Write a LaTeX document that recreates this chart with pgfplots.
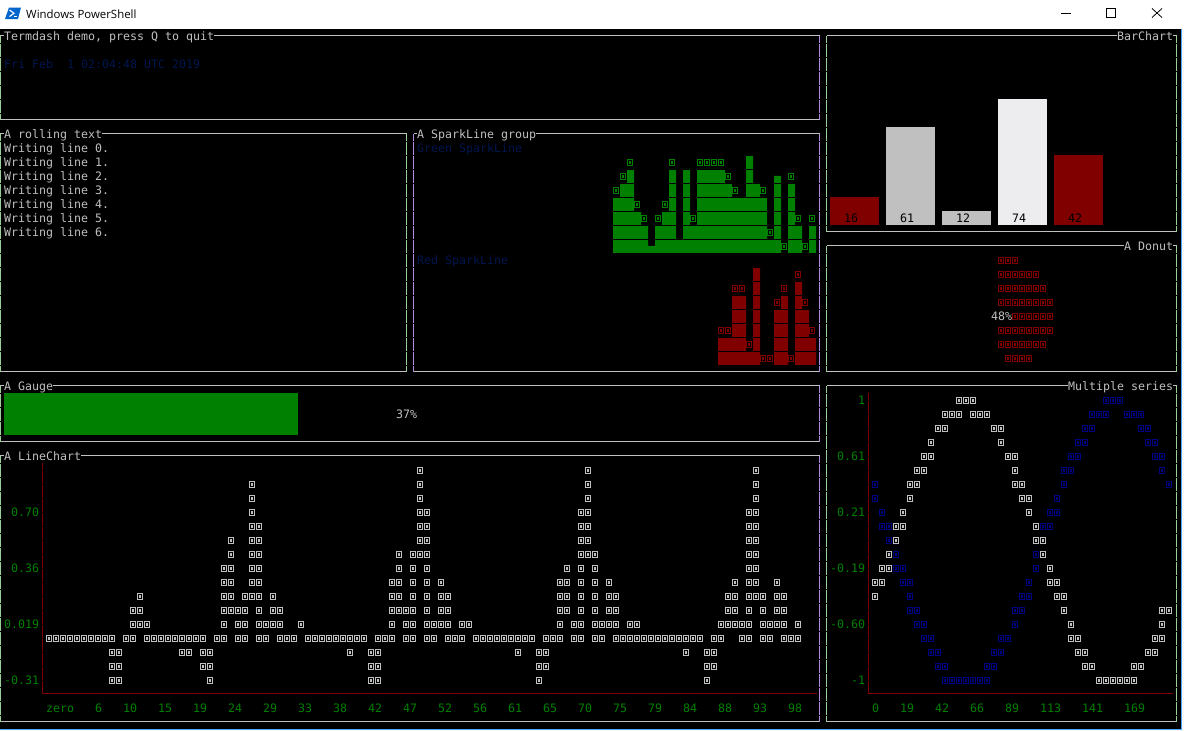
\documentclass[border=0pt]{standalone}
\usepackage{fontspec}
\setmainfont{Open Sans}
\setmonofont{DejaVu Sans Mono}
\usepackage{pgfplots}
\pgfplotsset{compat=1.18}

\definecolor{fg}{HTML}{C0C0C0}
\definecolor{tgreen}{HTML}{008000}
\definecolor{tred}{HTML}{800000}
\definecolor{tblue}{HTML}{000080}
\definecolor{dimblue}{HTML}{00164F}
\definecolor{lefte}{HTML}{98D098}
\definecolor{righte}{HTML}{B488E0}

% the little box the terminal draws for a glyph its font lacks
\pgfdeclareplotmark{tofu}{%
  \pgfsetlinewidth{1pt}%
  \pgfpathrectangle{\pgfqpoint{-3pt}{-3.5pt}}{\pgfqpoint{5pt}{6pt}}%
  \pgfusepathqstroke
  \pgfsetlinewidth{0.7pt}%
  \pgfpathrectangle{\pgfqpoint{-1.2pt}{-1.7pt}}{\pgfqpoint{1.4pt}{2.4pt}}%
  \pgfusepathqstroke
}

\pgfplotsset{
  base/.style={scale only axis, hide axis, anchor=south west},
  tofus/.style={only marks, mark=tofu, color=#1, mark options={solid}},
  hline/.style={fg, line width=1pt},
  vline/.style={#1, line width=1pt, dash pattern=on 12.5pt off 1.5pt, dash phase=5.75pt},
}

% all of these are used in the axis counted in terminal cells
\newcommand{\txt}[4]{\node[anchor=base west, inner sep=0pt, text=#1] at (axis cs:#2-0.5,#3+0.29) {\fontsize{11.62}{14}\selectfont\ttfamily #4};}
\newcommand{\ttl}[3]{\node[anchor=base west, inner sep=0pt, text=fg, fill=black] at (axis cs:#1-0.5,#2+0.29) {\fontsize{11.62}{14}\selectfont\ttfamily #3};}
\newcommand{\panel}[6]{%
  \addplot[hline] coordinates {(#1,#2-0.03)(#3,#2-0.03)};
  \addplot[hline] coordinates {(#1,#4-0.03)(#3,#4-0.03)};
  \addplot[vline=#5] coordinates {(#1,#2)(#1,#4)};
  \addplot[vline=#6] coordinates {(#3,#2)(#3,#4)};
}

\begin{document}
\begin{tikzpicture}

% window chrome, in pixels
\begin{axis}[base, at={(0pt,0pt)}, width=1184pt, height=731pt,
    xmin=0, xmax=1184, ymin=0, ymax=731, y dir=reverse]
\addplot[fill=black, draw=none] coordinates {(0,0)(1184,0)(1184,731)(0,731)} --cycle;
\addplot[fill=white, draw=none] coordinates {(0,0)(1184,0)(1184,29)(0,29)} --cycle;
\addplot[fill=white!94!gray, draw=none] coordinates {(1181,29)(1184,29)(1184,731)(1181,731)} --cycle;
\addplot[fill=white!94!gray, draw=none] coordinates {(0,730)(1184,730)(1184,731)(0,731)} --cycle;
\addplot[color=blue!50!cyan!70!white, line width=1pt] coordinates {(1181,29)(1181,729.5)(0,729.5)};
% powershell icon
\addplot[fill=blue!50!cyan!80!black, draw=none] coordinates {(5,19)(9,7.5)(21,7.5)(18,19)} --cycle;
\addplot[white, line width=1.1pt] coordinates {(9.5,10)(14,13.3)(9.5,16.5)};
\addplot[white, line width=1pt] coordinates {(13.5,16.8)(17,16.8)};
% window buttons
\addplot[black, line width=1pt] coordinates {(1061,13.5)(1071,13.5)};
\addplot[black, line width=1pt] coordinates {(1106.7,8.5)(1115.7,8.5)(1115.7,17.5)(1106.7,17.5)} --cycle;
\addplot[black, line width=.8pt] coordinates {(1152,8.5)(1162,17.5)};
\addplot[black, line width=.8pt] coordinates {(1162,8.5)(1152,17.5)};
\node[anchor=base west, inner sep=0pt, text=black] at (axis cs:26,18) {\fontsize{11.4}{14}\selectfont Windows PowerShell};
% gauge
\addplot[fill=tgreen, draw=none] coordinates {(4,393)(298,393)(298,435)(4,435)} --cycle;
\end{axis}

% bar chart, one unit of height is one terminal row
\begin{axis}[base, at={(826.5pt,506pt)}, width=280pt, height=126pt,
    xmin=-0.5, xmax=4.5, ymin=0, ymax=9]
\addplot[ybar, bar width=49pt, bar shift=0pt, fill=tred, draw=none] coordinates {(0,2)};
\addplot[ybar, bar width=49pt, bar shift=0pt, fill=fg, draw=none] coordinates {(1,7)};
\addplot[ybar, bar width=49pt, bar shift=0pt, fill=fg, draw=none] coordinates {(2,1)};
\addplot[ybar, bar width=49pt, bar shift=0pt, fill={rgb,255:red,237;green,237;blue,239}, draw=none] coordinates {(3,9)};
\addplot[ybar, bar width=49pt, bar shift=0pt, fill=tred, draw=none] coordinates {(4,5)};
\end{axis}

% green sparkline
\begin{axis}[base, at={(613pt,478pt)}, width=203pt, height=112pt,
    xmin=0, xmax=29, ymin=0, ymax=8]
\addplot[const plot, fill=tgreen, draw=none] coordinates {
  (0,4)(1,5)(2,6)(3,3)(4,2)(5,0.5)(6,2)(7,3)(8,6)(9,1)(10,6)(11,2)(12,6)(13,6)(14,6)
  (15,6)(16,5)(17,4)(18,4)(19,7)(20,5)(21,4)(22,1)(23,5.5)(24,0)(25,5)(26,2)(27,0)(28,2)(29,2)
} \closedcycle;
\pgfplotsinvokeforeach{0.964,1.964,2.964,3.964,4.964,5.964,6.964}{
  \addplot[black, line width=1pt] coordinates {(0,#1)(29,#1)};
}
\addplot[tofus=tgreen] coordinates {
  (0.5,4.5)(1.5,5.5)(2.5,6.5)(3.5,3.5)(4.5,2.5)(6.5,2.5)(7.5,3.5)(8.5,6.5)(11.5,2.5)
  (12.5,6.5)(13.5,6.5)(14.5,6.5)(15.5,6.5)(16.5,5.5)(17.5,4.5)(21.5,4.5)(22.5,1.5)
  (24.5,0.5)(25.5,5.5)(26.5,2.5)(27.5,0.5)(28.5,2.5)
};
\end{axis}

% red sparkline
\begin{axis}[base, at={(718pt,366pt)}, width=98pt, height=112pt,
    xmin=0, xmax=14, ymin=0, ymax=8]
\addplot[const plot, fill=tred, draw=none] coordinates {
  (0,2)(1,2)(2,5)(3,5)(4,1)(5,7)(6,0)(7,0)(8,4)(9,5)(10,0)(11,6)(12,4)(13,2)(14,2)
} \closedcycle;
\pgfplotsinvokeforeach{0.964,1.964,2.964,3.964,4.964,5.964,6.964}{
  \addplot[black, line width=1pt] coordinates {(0,#1)(14,#1)};
}
\addplot[tofus=tred] coordinates {
  (0.5,2.5)(1.5,2.5)(2.5,5.5)(3.5,5.5)(4.5,1.5)(6.5,0.5)(7.5,0.5)(8.5,4.5)(9.5,5.5)
  (10.5,0.5)(11.5,6.5)(12.5,4.5)(13.5,2.5)
};
\end{axis}

% the terminal itself: x is the column, y the row of a character cell
\begin{axis}[base, at={(0pt,0pt)}, width=1184pt, height=731pt,
    xmin=-0.0714286, xmax=169.0714286, ymin=-2.5714286, ymax=49.6428571, y dir=reverse]

\panel{0}{0}{117}{6}{lefte}{righte}
\panel{0}{7}{58}{24}{lefte}{lefte}
\panel{59}{7}{117}{24}{righte}{righte}
\panel{0}{25}{117}{29}{lefte}{righte}
\panel{0}{30}{117}{49}{lefte}{righte}
\panel{118}{0}{168}{14}{lefte}{lefte}
\panel{118}{15}{168}{24}{lefte}{lefte}
\panel{118}{25}{168}{49}{lefte}{lefte}

\ttl{1}{0}{Termdash~demo,~press~Q~to~quit}
\ttl{1}{7}{A~rolling~text}
\ttl{60}{7}{A~SparkLine~group}
\ttl{1}{25}{A~Gauge}
\ttl{1}{30}{A~LineChart}
\ttl{160}{0}{BarChart}
\ttl{161}{15}{A~Donut}
\ttl{153}{25}{Multiple~series}

\txt{dimblue}{1}{2}{Fri~Feb~~1~02:04:48~UTC~2019}
\txt{fg}{1}{8}{Writing~line~0.}
\txt{fg}{1}{9}{Writing~line~1.}
\txt{fg}{1}{10}{Writing~line~2.}
\txt{fg}{1}{11}{Writing~line~3.}
\txt{fg}{1}{12}{Writing~line~4.}
\txt{fg}{1}{13}{Writing~line~5.}
\txt{fg}{1}{14}{Writing~line~6.}
\txt{dimblue}{60}{8}{Green~SparkLine}
\txt{dimblue}{60}{16}{Red~SparkLine}
\txt{fg}{57}{27}{37\%}
\txt{black}{121}{13}{16}
\txt{black}{129}{13}{61}
\txt{black}{137}{13}{12}
\txt{black}{145}{13}{74}
\txt{black}{153}{13}{42}
\txt{fg}{142}{20}{48\%}

% donut
\addplot[tofus=tred] coordinates {
  (143,16)(144,16)(145,16)
  (143,17)(144,17)(145,17)(146,17)(147,17)(148,17)
  (143,18)(144,18)(145,18)(146,18)(147,18)(148,18)(149,18)
  (143,19)(144,19)(145,19)(146,19)(147,19)(148,19)(149,19)(150,19)
  (145,20)(146,20)(147,20)(148,20)(149,20)(150,20)
  (143,21)(144,21)(145,21)(146,21)(147,21)(148,21)(149,21)(150,21)
  (143,22)(144,22)(145,22)(146,22)(147,22)(148,22)(149,22)
  (144,23)(145,23)(146,23)(147,23)
};

% line chart axes and labels
\addplot[vline=tred] coordinates {(6,30.5)(6,47)};
\addplot[tred, line width=1pt] coordinates {(6,46.96)(116.6,46.96)};
\txt{tgreen}{2}{34}{0.70}
\txt{tgreen}{2}{38}{0.36}
\txt{tgreen}{1}{42}{0.019}
\txt{tgreen}{1}{46}{-0.31}
\txt{tgreen}{7}{48}{zero}
\txt{tgreen}{14}{48}{6}
\txt{tgreen}{18}{48}{10}
\txt{tgreen}{23}{48}{15}
\txt{tgreen}{28}{48}{19}
\txt{tgreen}{33}{48}{24}
\txt{tgreen}{38}{48}{29}
\txt{tgreen}{43}{48}{33}
\txt{tgreen}{48}{48}{38}
\txt{tgreen}{53}{48}{42}
\txt{tgreen}{58}{48}{47}
\txt{tgreen}{63}{48}{52}
\txt{tgreen}{68}{48}{56}
\txt{tgreen}{73}{48}{61}
\txt{tgreen}{78}{48}{65}
\txt{tgreen}{83}{48}{70}
\txt{tgreen}{88}{48}{75}
\txt{tgreen}{93}{48}{79}
\txt{tgreen}{98}{48}{84}
\txt{tgreen}{103}{48}{88}
\txt{tgreen}{108}{48}{93}
\txt{tgreen}{113}{48}{98}

% line chart series
\addplot[tofus=fg] coordinates {
  (60,31)(84,31)(108,31)
  (36,32)(60,32)(84,32)(108,32)
  (36,33)(60,33)(84,33)(108,33)
  (36,34)(60,34)(61,34)(83,34)(84,34)(107,34)(108,34)
  (36,35)(37,35)(60,35)(61,35)(83,35)(84,35)(107,35)(108,35)
  (33,36)(36,36)(37,36)(60,36)(61,36)(83,36)(84,36)(107,36)(108,36)
  (33,37)(36,37)(37,37)(57,37)(59,37)(60,37)(61,37)(83,37)(84,37)(85,37)(107,37)(108,37)
  (32,38)(33,38)(36,38)(37,38)(57,38)(59,38)(61,38)(81,38)(83,38)(85,38)(107,38)(108,38)
  (32,39)(33,39)(36,39)(37,39)(56,39)(57,39)(59,39)(61,39)(63,39)(80,39)(81,39)(83,39)(85,39)(87,39)(105,39)(107,39)(108,39)(111,39)
  (20,40)(32,40)(33,40)(35,40)(36,40)(37,40)(39,40)(56,40)(57,40)(59,40)(61,40)(63,40)(64,40)(80,40)(81,40)(83,40)(85,40)(87,40)(88,40)(104,40)(105,40)(107,40)(108,40)(109,40)(111,40)(112,40)
  (19,41)(20,41)(32,41)(33,41)(34,41)(35,41)(37,41)(39,41)(40,41)(56,41)(57,41)(58,41)(59,41)(61,41)(63,41)(64,41)(80,41)(81,41)(83,41)(85,41)(87,41)(88,41)(104,41)(105,41)(107,41)(109,41)(111,41)(112,41)
  (19,42)(20,42)(21,42)(32,42)(34,42)(35,42)(37,42)(38,42)(39,42)(40,42)(43,42)(56,42)(58,42)(59,42)(61,42)(62,42)(63,42)(64,42)(66,42)(67,42)(80,42)(82,42)(83,42)(85,42)(86,42)(87,42)(88,42)(90,42)(91,42)(103,42)(104,42)(105,42)(106,42)(107,42)(109,42)(110,42)(111,42)(112,42)(114,42)
  (7,43)(8,43)(9,43)(10,43)(11,43)(12,43)(13,43)(14,43)(15,43)(16,43)(18,43)(19,43)
  (21,43)(22,43)(23,43)(24,43)(25,43)(26,43)(27,43)(28,43)(29,43)(31,43)(32,43)(34,43)(35,43)(37,43)(38,43)
  (40,43)(41,43)(42,43)(44,43)(45,43)(46,43)(47,43)(48,43)(49,43)(50,43)(51,43)(52,43)(54,43)(55,43)(56,43)(58,43)(59,43)
  (61,43)(62,43)(64,43)(65,43)(66,43)(68,43)(69,43)(70,43)(71,43)(72,43)(73,43)(74,43)(75,43)(76,43)(78,43)(79,43)(80,43)
  (82,43)(83,43)(85,43)(86,43)(88,43)(89,43)(90,43)(91,43)(92,43)(93,43)(94,43)(95,43)(96,43)(97,43)(98,43)(99,43)(100,43)
  (102,43)(103,43)(106,43)(107,43)(109,43)(110,43)(112,43)(113,43)(114,43)
  (16,44)(17,44)(26,44)(27,44)(29,44)(30,44)(50,44)(53,44)(54,44)(74,44)(77,44)(78,44)(98,44)(101,44)(102,44)
  (16,45)(17,45)(29,45)(30,45)(53,45)(54,45)(77,45)(78,45)(101,45)(102,45)
  (16,46)(17,46)(30,46)(53,46)(54,46)(77,46)(101,46)
};

% multiple series axes and labels
\addplot[vline=tred] coordinates {(124,25.5)(124,47)};
\addplot[tred, line width=1pt] coordinates {(124,46.96)(167.5,46.96)};
\txt{tgreen}{123}{26}{1}
\txt{tgreen}{120}{30}{0.61}
\txt{tgreen}{120}{34}{0.21}
\txt{tgreen}{119}{38}{-0.19}
\txt{tgreen}{119}{42}{-0.60}
\txt{tgreen}{122}{46}{-1}
\txt{tgreen}{125}{48}{0}
\txt{tgreen}{129}{48}{19}
\txt{tgreen}{134}{48}{42}
\txt{tgreen}{139}{48}{66}
\txt{tgreen}{144}{48}{89}
\txt{tgreen}{149}{48}{113}
\txt{tgreen}{155}{48}{141}
\txt{tgreen}{161}{48}{169}

% multiple series: blue
\addplot[tofus=tblue] coordinates {
  (158,26)(159,26)(160,26)
  (156,27)(157,27)(158,27)(161,27)(162,27)(163,27)
  (155,28)(156,28)(163,28)(164,28)
  (154,29)(155,29)(164,29)(165,29)
  (153,30)(154,30)(165,30)(166,30)
  (152,31)(153,31)(166,31)
  (125,32)(152,32)(167,32)
  (125,33)(151,33)
  (126,34)(150,34)(151,34)
  (126,35)(127,35)(149,35)(150,35)
  (127,36)
  (128,37)(148,37)
  (128,38)(129,38)(148,38)
  (129,39)(130,39)(147,39)
  (130,40)(146,40)(147,40)
  (130,41)(131,41)(145,41)(146,41)
  (131,42)(132,42)(145,42)
  (132,43)(133,43)(143,43)(144,43)
  (133,44)(134,44)(142,44)(143,44)
  (134,45)(135,45)(141,45)(142,45)
  (135,46)(136,46)(137,46)(138,46)(139,46)(140,46)(141,46)
};
% multiple series: white
\addplot[tofus=fg] coordinates {
  (137,26)(138,26)(139,26)
  (135,27)(136,27)(137,27)(139,27)(140,27)(141,27)
  (134,28)(135,28)(142,28)(143,28)
  (133,29)(143,29)
  (132,30)(133,30)(144,30)(145,30)
  (131,31)(132,31)(145,31)
  (130,32)(131,32)(145,32)(146,32)
  (130,33)(146,33)(147,33)
  (129,34)(147,34)
  (128,35)(129,35)(148,35)
  (128,36)(148,36)(149,36)
  (127,37)(149,37)
  (126,38)(127,38)(150,38)
  (125,39)(126,39)(150,39)(151,39)
  (125,40)(151,40)(152,40)
  (152,41)(166,41)(167,41)
  (153,42)(166,42)
  (153,43)(154,43)(165,43)(166,43)
  (154,44)(155,44)(164,44)(165,44)
  (155,45)(156,45)(162,45)(163,45)
  (157,46)(158,46)(159,46)(160,46)(161,46)(162,46)
};
\end{axis}
\end{tikzpicture}
\end{document}
